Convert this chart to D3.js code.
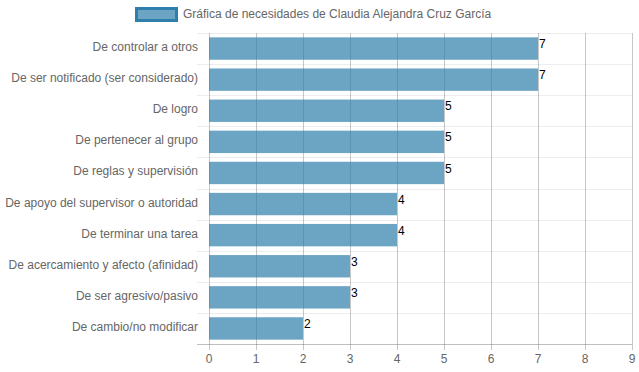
<!DOCTYPE html>
<html>
<head>
<meta charset="utf-8">
<script src="https://cdn.jsdelivr.net/npm/d3@7"></script>
<style>
  body { margin: 0; background: #fff; }
  svg { font-family: "Liberation Sans", Arial, sans-serif; }
</style>
</head>
<body>
<div id="chart"></div>
<script>
// data
var categories = [
  "De controlar a otros",
  "De ser notificado (ser considerado)",
  "De logro",
  "De pertenecer al grupo",
  "De reglas y supervisión",
  "De apoyo del supervisor o autoridad",
  "De terminar una tarea",
  "De acercamiento y afecto (afinidad)",
  "De ser agresivo/pasivo",
  "De cambio/no modificar"
];
var values = [7, 7, 5, 5, 5, 4, 4, 3, 3, 2];
var xTicks = [0, 1, 2, 3, 4, 5, 6, 7, 8, 9];
var seriesName = "Gráfica de necesidades de Claudia Alejandra Cruz García";

var width = 639, height = 372;
var margin = { top: 33, right: 7, bottom: 28, left: 209 };

var svg = d3.select("#chart")
  .append("svg")
  .attr("width", width)
  .attr("height", height);

var x = d3.scaleLinear()
  .domain([0, 9])
  .range([margin.left, width - margin.right]);

var y = d3.scaleBand()
  .domain(categories)
  .range([margin.top, height - margin.bottom])
  .padding(0);

var bw = y.bandwidth();

// horizontal grid lines (category boundaries)
var hLines = d3.range(categories.length + 1);
svg.append("g")
  .selectAll("line")
  .data(hLines)
  .enter()
  .append("line")
  .attr("x1", margin.left - 12)
  .attr("x2", width - margin.right)
  .attr("y1", function (d) { return Math.round(margin.top + d * bw) + 0.5; })
  .attr("y2", function (d) { return Math.round(margin.top + d * bw) + 0.5; })
  .style("stroke", function (d) { return d == categories.length ? "rgba(0,0,0,0.25)" : "rgba(0,0,0,0.07)"; })
  .style("stroke-width", 1);

// vertical grid lines
svg.append("g")
  .selectAll("line")
  .data(xTicks)
  .enter()
  .append("line")
  .attr("x1", function (d) { return Math.round(x(d)) + 0.5; })
  .attr("x2", function (d) { return Math.round(x(d)) + 0.5; })
  .attr("y1", margin.top)
  .attr("y2", height - margin.bottom + 6)
  .style("stroke", "rgba(0,0,0,0.22)")
  .style("stroke-width", 1);

// bars
svg.append("g")
  .selectAll("rect")
  .data(values)
  .enter()
  .append("rect")
  .attr("x", x(0))
  .attr("y", function (d, i) { return y(categories[i]) + bw * 0.14; })
  .attr("width", function (d) { return x(d) - x(0); })
  .attr("height", bw * 0.72)
  .style("fill", "rgba(46,127,171,0.7)");

// value labels
svg.append("g")
  .selectAll("text")
  .data(values)
  .enter()
  .append("text")
  .attr("x", function (d) { return x(d) + 1; })
  .attr("y", function (d, i) { return y(categories[i]) + bw * 0.14 + 2; })
  .attr("dominant-baseline", "hanging")
  .style("font-size", "12px")
  .style("fill", "#000")
  .text(function (d) { return d; });

// category labels
svg.append("g")
  .selectAll("text")
  .data(categories)
  .enter()
  .append("text")
  .attr("x", margin.left - 11)
  .attr("y", function (d) { return y(d) + bw / 2 - 1.5; })
  .attr("text-anchor", "end")
  .attr("dominant-baseline", "central")
  .style("font-size", "12px")
  .style("fill", "#666")
  .text(function (d) { return d; });

// x tick labels
svg.append("g")
  .selectAll("text")
  .data(xTicks)
  .enter()
  .append("text")
  .attr("x", function (d) { return x(d); })
  .attr("y", height - margin.bottom + 15)
  .attr("text-anchor", "middle")
  .attr("dominant-baseline", "central")
  .style("font-size", "12px")
  .style("fill", "#666")
  .text(function (d) { return d; });

// legend
var legend = svg.append("g");
legend.append("rect")
  .attr("x", 136.5)
  .attr("y", 8.5)
  .attr("width", 40)
  .attr("height", 12)
  .style("fill", "rgba(46,127,171,0.7)")
  .style("stroke", "#2e7fab")
  .style("stroke-width", 3);
legend.append("text")
  .attr("x", 183)
  .attr("y", 14)
  .attr("dominant-baseline", "central")
  .style("font-size", "12px")
  .style("fill", "#666")
  .text(seriesName);
</script>
</body>
</html>
